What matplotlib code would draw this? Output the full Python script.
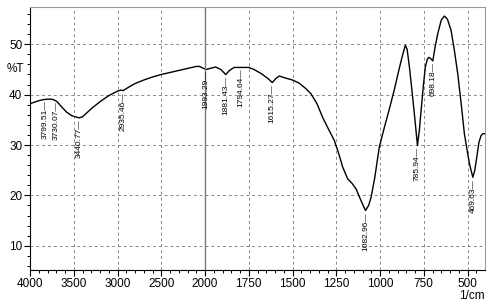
import numpy as np
import matplotlib
matplotlib.use("Agg")
import matplotlib.pyplot as plt
from matplotlib.ticker import FixedLocator

plt.rcParams['font.family'] = ['Liberation Sans', 'DejaVu Sans']

# ---- spectrum (wavenumber, %T)
wn = [4000, 3950, 3900, 3850, 3799.51, 3760, 3730.07, 3690, 3640, 3580,
      3520, 3440.77, 3400, 3350, 3300, 3200, 3100, 3000, 2960, 2935.46,
      2900, 2800, 2700, 2600, 2500, 2400, 2300, 2200, 2100, 2060,
      2030, 1993.29, 1960, 1940, 1910, 1881.43, 1860, 1834, 1794.64, 1750,
      1720, 1680, 1640, 1615.27, 1595, 1576, 1540, 1500, 1462, 1424,
      1395, 1360, 1328, 1295, 1261, 1235, 1213, 1185, 1160, 1137,
      1109, 1082.96, 1065, 1051, 1030, 1004, 975, 947, 918, 890,
      870, 855, 845, 832, 818, 804, 785.94, 775, 765, 753,
      741, 730, 722, 712, 698.18, 685, 670, 650, 632, 615,
      594, 575, 556, 537, 518, 500, 489, 469.63, 458, 447,
      435, 422, 410, 400]
T = [38.2, 38.5, 38.8, 39.0, 39.1, 39.1, 39.0, 38.6, 37.6, 36.5,
     35.8, 35.4, 35.6, 36.4, 37.2, 38.6, 39.8, 40.7, 40.9, 40.8,
     41.2, 42.2, 42.9, 43.5, 44.0, 44.4, 44.8, 45.2, 45.6, 45.6,
     45.3, 45.0, 45.3, 45.5, 45.0, 44.0, 44.8, 45.4, 45.4, 45.4,
     45.0, 44.2, 43.2, 42.4, 43.2, 43.7, 43.3, 42.9, 42.3, 41.2,
     40.2, 38.2, 35.5, 33.2, 30.9, 28.2, 25.6, 23.3, 22.4, 21.3,
     19.0, 17.0, 18.0, 19.6, 23.5, 29.6, 33.5, 37.1, 41.0, 45.2,
     48.0, 49.8, 49.0, 45.5, 41.0, 36.3, 29.9, 33.0, 36.9, 41.5,
     45.5, 47.0, 47.4, 47.2, 46.7, 49.5, 52.1, 54.8, 55.6, 55.0,
     52.8, 48.8, 44.2, 38.5, 32.3, 28.5, 26.3, 23.6, 25.0, 27.6,
     30.5, 31.9, 32.3, 32.2]

peaks = [3799.51, 3730.07, 3440.77, 2935.46, 1993.29, 1881.43, 1794.64,
         1615.27, 1082.96, 785.94, 698.18, 469.63]
# small sideways nudges (points) so the two close labels do not collide
nudge = {3799.51: -1.8, 3730.07: 1.8}

x_major = [4000, 3500, 3000, 2500, 2000, 1750, 1500, 1250, 1000, 750, 500]
x_minor = [v for v in range(3900, 2000, -100) if v not in x_major] + \
          [v for v in range(1950, 400, -50) if v not in x_major]
y_major = [10, 20, 30, 40, 50]


# below 2000 1/cm the axis is stretched 2x
def fwd(x):
    x = np.asarray(x, dtype=float)
    return np.where(x >= 2000, x, 2 * x - 2000)


def inv(u):
    u = np.asarray(u, dtype=float)
    return np.where(u >= 2000, u, (u + 2000) / 2)


fig = plt.figure(figsize=(5, 3.04), dpi=100)
ax = fig.add_axes([0.06, 0.112, 0.91, 0.865])
ax.set_xscale('function', functions=(fwd, inv))
ax.set_xlim(4000, 400)
ax.set_ylim(5.2, 57.4)

ax.plot(wn, T, color='black', lw=1.0)

ax.xaxis.set_major_locator(FixedLocator(x_major))
ax.xaxis.set_minor_locator(FixedLocator(x_minor))
ax.set_xticklabels([str(v) for v in x_major])
ax.yaxis.set_major_locator(FixedLocator(y_major))
ax.yaxis.set_minor_locator(FixedLocator(list(range(6, 57, 2))))
ax.tick_params(which='major', length=4, width=0.8, labelsize=8.5, pad=1.5)
ax.tick_params(which='minor', length=2.5, width=0.7)

ax.grid(True, which='major', color='#888888', ls=(0, (3, 3)), lw=0.7)
ax.axvline(2000, color='#777777', lw=1.0)

for s in ['top', 'right']:
    ax.spines[s].set_color('#999999')
    ax.spines[s].set_linewidth(0.8)

T_at = dict(zip(wn, T))
for p in peaks:
    ax.annotate(f"{p:.2f}\u2014", xy=(p, T_at[p]),
                xytext=(nudge.get(p, 0), -1),
                textcoords='offset points', rotation=90, ha='center',
                va='top', fontsize=6.0)

ax.text(-0.012, 45, '%T', transform=ax.get_yaxis_transform(),
        ha='right', va='center', fontsize=8.5)
ax.text(1.0, -0.075, '1/cm', transform=ax.transAxes, ha='right', va='top',
        fontsize=8.5)

fig.savefig('out.png', dpi=100)
